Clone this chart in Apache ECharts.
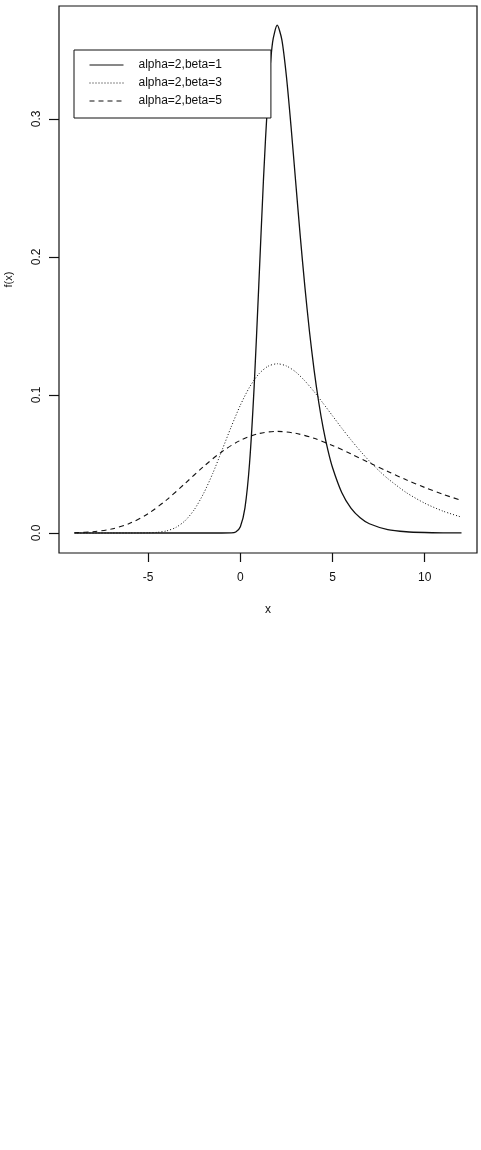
<!DOCTYPE html>
<html>
<head>
<meta charset="utf-8">
<script src="https://cdn.jsdelivr.net/npm/echarts@6/dist/echarts.min.js"></script>
<style>
html,body{margin:0;padding:0;background:#fff;}
#chart{width:481px;height:1150px;}
</style>
</head>
<body>
<div id="chart"></div>
<script>
// Series names
var seriesNames = ['alpha=2,beta=1', 'alpha=2,beta=3', 'alpha=2,beta=5'];

// alpha=2, beta=1
var x1 = [-9, -1, -0.5, -0.25, 0, 0.25, 0.5, 0.75, 1, 1.25, 1.5, 1.75, 2, 2.25, 2.5, 2.75, 3, 3.25, 3.5, 3.75, 4, 4.25, 4.5, 4.75, 5, 5.5, 6, 6.5, 7, 8, 9, 10, 11, 12];
var y1 = [0, 0, 0.00006, 0.00072, 0.00457, 0.0182, 0.0507, 0.1064, 0.1794, 0.2549, 0.3170, 0.3556, 0.3679, 0.3574, 0.3307, 0.2945, 0.2546, 0.2151, 0.1785, 0.1460, 0.1182, 0.0949, 0.0756, 0.0600, 0.0474, 0.0293, 0.0180, 0.0110, 0.0067, 0.00247, 0.00091, 0.00034, 0.00012, 0.00005];

// alpha=2, beta=3
var x2 = [-9, -7, -6, -5, -4.5, -4, -3.5, -3, -2.5, -2, -1.5, -1, -0.5, 0, 0.5, 1, 1.5, 2, 2.5, 3, 3.5, 4, 4.5, 5, 5.5, 6, 6.5, 7, 7.5, 8, 9, 10, 11, 12];
var y2 = [0, 0, 0.000003, 0.000114, 0.00047, 0.00152, 0.0040, 0.00887, 0.0169, 0.0285, 0.0431, 0.0598, 0.0768, 0.0926, 0.1057, 0.1152, 0.1208, 0.1226, 0.1210, 0.1167, 0.1102, 0.1024, 0.0938, 0.0849, 0.0760, 0.0675, 0.0595, 0.0521, 0.0454, 0.0394, 0.0293, 0.0216, 0.0158, 0.0115];

// alpha=2, beta=5
var x3 = [-9, -8, -7, -6, -5, -4, -3, -2, -1, 0, 1, 2, 3, 4, 5, 6, 7, 8, 9, 10, 11, 12];
var y3 = [0.00022, 0.00091, 0.00285, 0.0070, 0.01406, 0.0240, 0.0359, 0.0481, 0.0589, 0.0671, 0.0720, 0.0736, 0.0722, 0.0686, 0.0634, 0.0573, 0.0509, 0.0446, 0.0385, 0.0330, 0.0280, 0.0236];

// Tick labels
var xTicks = [-5, 0, 5, 10];
var yTicks = [0, 0.1, 0.2, 0.3];

function pairs(xs, ys) {
  return xs.map(function (x, i) { return [x, ys[i]]; });
}

var FONT = 'Liberation Sans, Arial, Helvetica, sans-serif';
var INK = '#111';

var chart = echarts.init(document.getElementById('chart'), null, {renderer: 'canvas'});
chart.setOption({
  animation: false,
  backgroundColor: '#fff',
  grid: {
    left: 59, top: 6, right: 4, bottom: 597,
    containLabel: false, outerBoundsMode: 'none',
    show: true, borderColor: INK, borderWidth: 1.2, backgroundColor: 'transparent'
  },
  legend: {
    orient: 'vertical',
    left: 74, top: 50,
    padding: [9, 49, 11, 15],
    itemWidth: 34, itemHeight: 14, itemGap: 6,
    borderColor: INK, borderWidth: 1, backgroundColor: '#fff',
    itemStyle: {color: 'transparent', borderWidth: 0, opacity: 0},
    lineStyle: {width: 1},
    textStyle: {fontFamily: FONT, fontSize: 12, color: INK, padding: [0, 0, 0, 10]},
    data: seriesNames
  },
  xAxis: {
    type: 'value',
    min: -9.84, max: 12.84,
    name: 'x', nameLocation: 'middle', nameGap: 51,
    nameTextStyle: {fontFamily: FONT, fontSize: 12, color: INK},
    axisLine: {show: false, onZero: false},
    axisTick: {show: true, inside: false, length: 9, customValues: xTicks, lineStyle: {color: INK, width: 1.2}},
    axisLabel: {show: true, customValues: xTicks, margin: 19, fontFamily: FONT, fontSize: 12, color: INK},
    splitLine: {show: false}
  },
  yAxis: {
    type: 'value',
    min: -0.0145, max: 0.3818,
    name: 'f(x)', nameLocation: 'middle', nameGap: 45, nameRotate: 90,
    nameTextStyle: {fontFamily: FONT, fontSize: 11, color: INK},
    axisLine: {show: false, onZero: false},
    axisTick: {show: true, inside: false, length: 10, customValues: yTicks, lineStyle: {color: INK, width: 1.2}},
    axisLabel: {
      show: true, customValues: yTicks, rotate: 90, margin: 16,
      fontFamily: FONT, fontSize: 12, color: INK,
      formatter: function (v) { return v.toFixed(1); }
    },
    splitLine: {show: false}
  },
  series: [
    {
      name: seriesNames[0], type: 'line', data: pairs(x1, y1),
      smooth: 0.25, symbol: 'none', clip: true,
      lineStyle: {color: INK, width: 1.3, type: 'solid'},
      itemStyle: {color: INK}
    },
    {
      name: seriesNames[1], type: 'line', data: pairs(x2, y2),
      smooth: 0.25, symbol: 'none', clip: true,
      lineStyle: {color: INK, width: 1, type: [1, 2]},
      itemStyle: {color: INK}
    },
    {
      name: seriesNames[2], type: 'line', data: pairs(x3, y3),
      smooth: 0.3, symbol: 'none', clip: true,
      lineStyle: {color: INK, width: 1.1, type: [5, 4]},
      itemStyle: {color: INK}
    }
  ]
});
</script>
</body>
</html>
